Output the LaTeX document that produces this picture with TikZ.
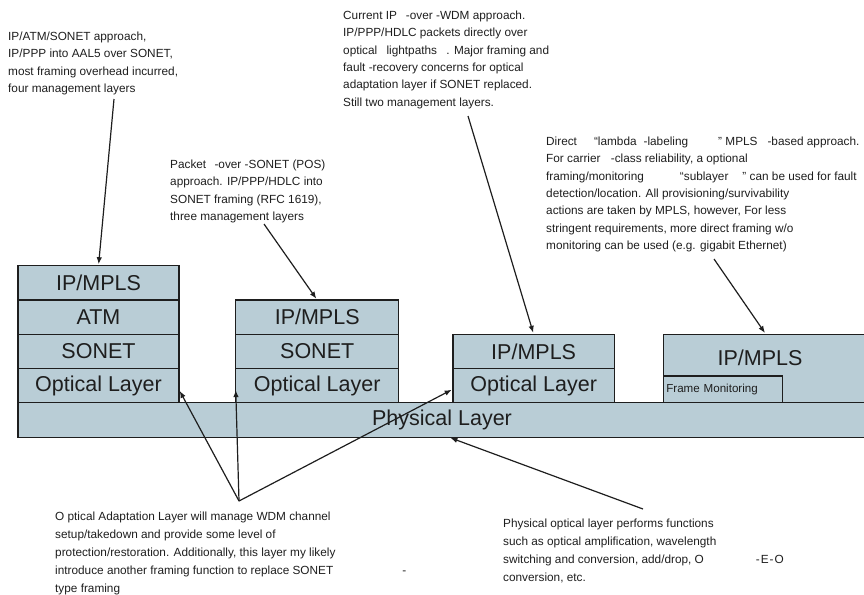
\documentclass[tikz,border=0pt]{standalone}
\usepackage{fontspec}
\setmainfont{Liberation Sans}
\usetikzlibrary{arrows.meta}
\definecolor{layerfill}{RGB}{185,205,214}
\definecolor{ink}{RGB}{30,30,30}
\tikzset{
  layer/.style={draw=ink, line width=1.2pt, fill=layerfill, text=ink,
    minimum height=34.25pt, inner sep=0pt, outer sep=0pt, anchor=north west,
    font=\fontsize{21.5}{24}\selectfont},
  note/.style={anchor=north west, inner sep=0pt, align=left, text=ink,
    font=\fontsize{11.8}{17.4}\selectfont},
  lownote/.style={note, font=\fontsize{11.8}{18}\selectfont},
  pointer/.style={draw=ink, line width=1.2pt, shorten >=1.5pt,
    -{Latex[length=7pt,width=5.5pt]}},
}
\begin{document}
\begin{tikzpicture}[x=1pt,y=-1pt]
\path[use as bounding box, clip] (0,0) rectangle (864,594);

% physical layer across the whole width
\node[layer, minimum width=848pt, minimum height=34.6pt] (phys) at (18,402.7) {Physical Layer};

% IP/ATM/SONET stack
\node[layer, minimum width=161pt] (s1ip)  at (18,265.7)  {IP/MPLS};
\node[layer, minimum width=161pt] (s1atm) at (18,299.95) {ATM};
\node[layer, minimum width=161pt] (s1son) at (18,334.2)  {SONET};
\node[layer, minimum width=161pt] (s1opt) at (18,368.45) {Optical Layer};

% packet over SONET stack
\node[layer, minimum width=163pt] (s2ip)  at (235.7,299.95) {IP/MPLS};
\node[layer, minimum width=163pt] (s2son) at (235.7,334.2)  {SONET};
\node[layer, minimum width=163pt] (s2opt) at (235.7,368.45) {Optical Layer};

% IP over WDM stack
\node[layer, minimum width=161.3pt] (s3ip)  at (453,334.2)  {IP/MPLS};
\node[layer, minimum width=161.3pt] (s3opt) at (453,368.45) {Optical Layer};

% lambda-labeling stack
\node[layer, minimum width=205pt, minimum height=68.5pt] (s4box) at (663.3,334.2) {};
\node[inner sep=0pt, text=ink, font=\fontsize{21.5}{24}\selectfont] (s4ip) at (760,358) {IP/MPLS};
\node[layer, minimum width=119.4pt, minimum height=26.7pt, inner xsep=3pt,
      text width=113.4pt, align=left, font=\fontsize{11.6}{13}\selectfont]
      (s4fm) at (663.3,376) {Frame Monitoring};

% annotations
\node[note] (atmNote) at (8,31.5) {IP/ATM/SONET approach,\\
IP/PPP into AAL5 over SONET,\\
most framing overhead incurred,\\
four management layers};

\node[note] (wdmNote) at (343,10.5) {Current IP\hspace{9pt}-over -WDM approach.\\
IP/PPP/HDLC packets directly over\\
optical\hspace{6pt} lightpaths\hspace{6pt} . Major framing and\\
fault -recovery concerns for optical\\
adaptation layer if SONET replaced.\\
Still two management layers.};

\node[note] (posNote) at (170,159.5) {Packet\hspace{5pt} -over -SONET (POS)\\
approach. IP/PPP/HDLC into\\
SONET framing (RFC 1619),\\
three management layers};

\node[note] (lambdaNote) at (546,136.5) {Direct\hspace{17pt}“lambda\hspace{7pt}-labeling\hspace{30pt}” MPLS\hspace{10pt}-based approach.\\
For carrier\hspace{7pt} -class reliability, a optional\\
framing/monitoring\hspace{36pt}“sublayer\hspace{14pt}” can be used for fault\\
detection/location. All provisioning/survivability\\
actions are taken by MPLS, however, For less\\
stringent requirements, more direct framing w/o\\
monitoring can be used (e.g. gigabit Ethernet)};

\node[lownote] (adaptNote) at (55,511.5) {O ptical Adaptation Layer will manage WDM channel\\
setup/takedown and provide some level of\\
protection/restoration. Additionally, this layer my likely\\
introduce another framing function to replace SONET\hspace{69pt}-\\
type framing};

\node[lownote] (physNote) at (503,518.5) {Physical optical layer performs functions\\
such as optical amplification, wavelength\\
switching and conversion, add/drop, O\hspace{52pt}-\kern1pt E\kern1pt-\kern1pt O\\
conversion, etc.};

% connector end points
\coordinate (atmTail) at (114,99);
\coordinate (posTail) at (264,224);
\coordinate (wdmTail) at (468,116);
\coordinate (lambdaTail) at (714,259);
\coordinate (hub) at (239,501);
\coordinate (physTail) at (643,509);

% pointers
\draw[pointer] (atmTail) -- (s1ip.north);
\draw[pointer] (posTail) -- (s2ip.north);
\draw[pointer] (wdmTail) -- (s3ip.north);
\draw[pointer] (lambdaTail) -- (s4box.north);
\draw[pointer] (hub) -- ([yshift=-4pt]s1opt.east);
\draw[pointer] (hub) -- ([yshift=-3pt]s2opt.west);
\draw[pointer] (hub) -- ([yshift=-3.5pt]s3opt.west);
\draw[pointer] (physTail) -- ([xshift=7pt]phys.south);
\end{tikzpicture}
\end{document}
